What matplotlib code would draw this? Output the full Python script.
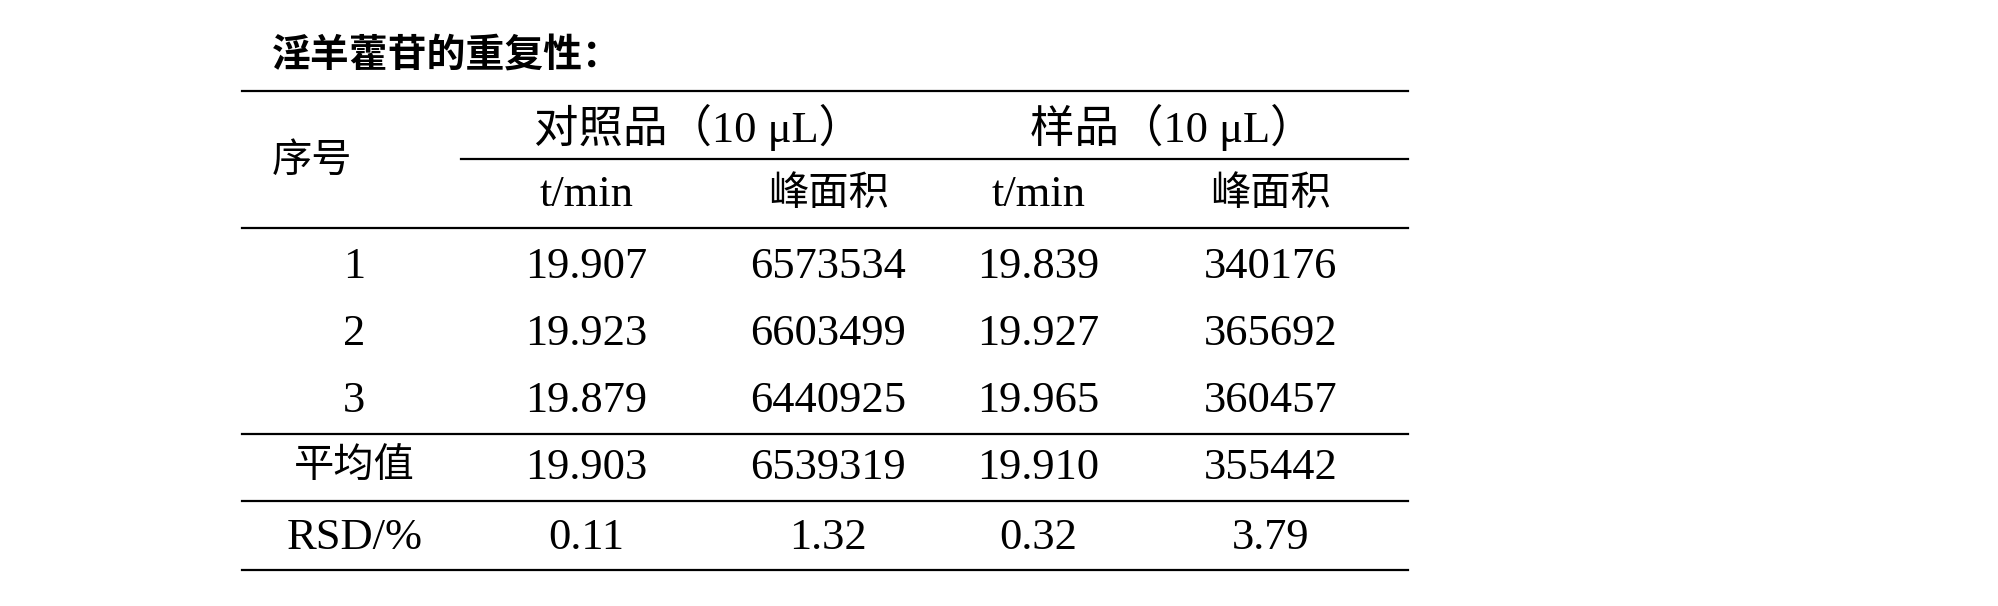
import matplotlib
matplotlib.use("Agg")
import matplotlib.pyplot as plt

title = "淫羊藿苷的重复性："
group_labels = ["对照品（10 μL）", "样品（10 μL）"]
sub_labels = ["t/min", "峰面积", "t/min", "峰面积"]
row_labels = ["1", "2", "3", "平均值", "RSD/%"]
ref_t = ["19.907", "19.923", "19.879", "19.903", "0.11"]
ref_area = ["6573534", "6603499", "6440925", "6539319", "1.32"]
smp_t = ["19.839", "19.927", "19.965", "19.910", "0.32"]
smp_area = ["340176", "365692", "360457", "355442", "3.79"]

W, H = 1568, 475
fig = plt.figure(figsize=(19.98, 6.06), dpi=100)
fam = ["Liberation Serif", "Noto Sans CJK SC"]
fs = 32

def T(x, y, s, **kw):
    kw.setdefault("fontsize", fs)
    kw.setdefault("family", fam)
    fig.text(x / W, 1 - y / H, s, ha=kw.pop("ha", "center"), va="center", **kw)

def L(y, x0=190, x1=1105, lw=1.6):
    fig.add_artist(plt.Line2D([x0 / W, x1 / W], [1 - y / H] * 2, color="black", lw=lw))

T(213, 44, title, ha="left", fontweight="bold", family=["Noto Sans CJK SC"], fontsize=28)
L(71)
T(548, 100, group_labels[0])
T(920, 100, group_labels[1])
T(245, 127, "序号", fontsize=29)
L(125, 362)
cols = [460, 650, 815, 997]
for x, s in zip(cols, sub_labels):
    T(x, 153, s, fontsize=32 if s == "t/min" else 29)
L(179)
ys = [209, 262, 314, 367, 422]
for i, y in enumerate(ys):
    T(278, y, row_labels[i], fontsize=29 if row_labels[i] == "平均值" else 32)
    for x, arr in zip(cols, [ref_t, ref_area, smp_t, smp_area]):
        T(x, y, arr[i])
L(340)
L(393)
L(447)
fig.savefig("out.png", dpi=100)
